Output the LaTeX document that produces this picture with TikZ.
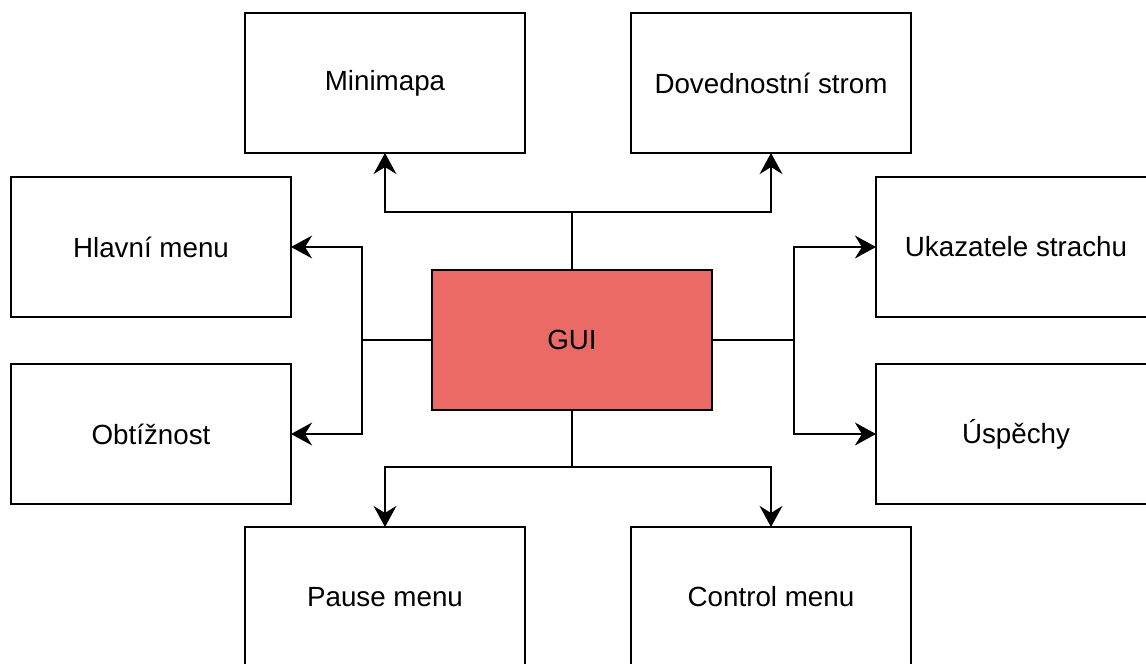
\documentclass[tikz,border=0pt]{standalone}
\usepackage{fontspec}
\setmainfont{Liberation Sans}
\usetikzlibrary{calc, positioning, arrows.meta}

\begin{document}
\begin{tikzpicture}[
    x=0.02cm, y=-0.02cm,
    >={Stealth[length=12pt, width=13pt, inset=4pt]},
    line width=1.3pt,
    box/.style={draw, minimum width=5.6cm, minimum height=2.8cm, font=\fontsize{15.8}{19}\selectfont, outer sep=0pt}
]
    \useasboundingbox (0,0) rectangle (1146,663);

    % Central block
    \node[box, fill={rgb,255:red,234;green,107;blue,102}] (gui) at (572,340) {GUI};

    % Surrounding blocks
    \node[box] (minimapa) at (385,83) {Minimapa};
    \node[box] (strom) at (771,83) {Dovednostní strom};
    \node[box] (hlavni) at (151,247) {Hlavní menu};
    \node[box] (obtiznost) at (151,434) {Obtížnost};
    \node[box] (ukazatele) at (1016,247) {Ukazatele strachu};
    \node[box] (uspechy) at (1016,434) {Úspěchy};
    \node[box] (pause) at (385,597) {Pause menu};
    \node[box] (control) at (771,597) {Control menu};

    % Fork points
    \coordinate (topfork) at (572,212);
    \coordinate (botfork) at (572,467);
    \coordinate (leftfork) at (362,340);
    \coordinate (rightfork) at (794,340);

    % Top
    \draw (gui.north) -- (topfork);
    \draw[->] (topfork) -| (minimapa.south);
    \draw[->] (topfork) -| (strom.south);

    % Left
    \draw (gui.west) -- (leftfork);
    \draw[->] (leftfork) |- (hlavni.east);
    \draw[->] (leftfork) |- (obtiznost.east);

    % Right
    \draw (gui.east) -- (rightfork);
    \draw[->] (rightfork) |- (ukazatele.west);
    \draw[->] (rightfork) |- (uspechy.west);

    % Bottom
    \draw (gui.south) -- (botfork);
    \draw[->] (botfork) -| (pause.north);
    \draw[->] (botfork) -| (control.north);

\end{tikzpicture}
\end{document}
